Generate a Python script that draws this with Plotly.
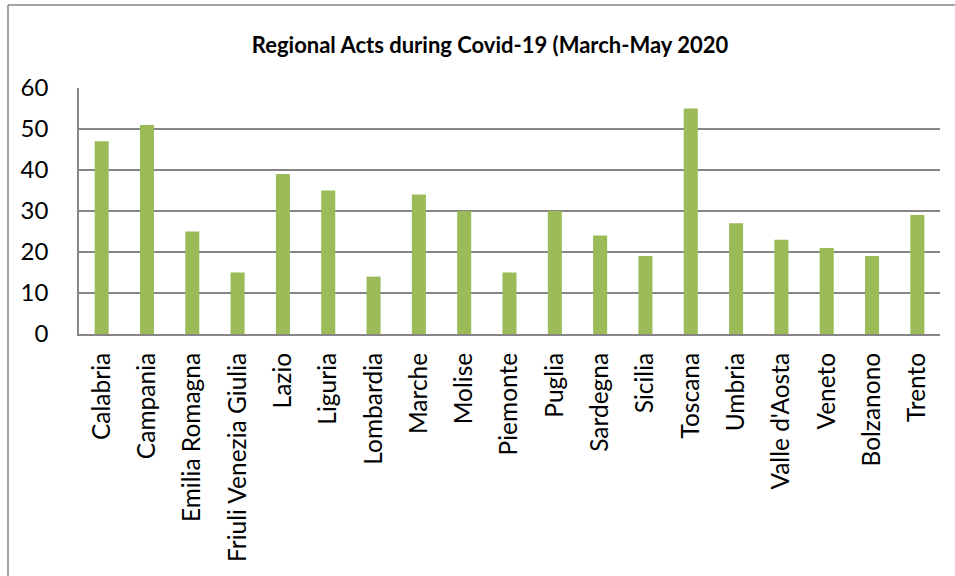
import plotly.graph_objects as go

regions = ["Calabria", "Campania", "Emilia Romagna", "Friuli Venezia Giulia", "Lazio",
           "Liguria", "Lombardia", "Marche", "Molise", "Piemonte", "Puglia", "Sardegna",
           "Sicilia", "Toscana", "Umbria", "Valle d'Aosta", "Veneto", "Bolzanono", "Trento"]
acts = [47, 51, 25, 15, 39, 35, 14, 34, 30, 15, 30, 24, 19, 55, 27, 23, 21, 19, 29]
y_ticks = [0, 10, 20, 30, 40, 50, 60]

W, H = 955, 576
L, R, T, B = 79, 940, 88, 334

fig = go.Figure(go.Bar(x=regions, y=acts, marker=dict(color="#9BBB59", line=dict(width=0))))

pw, ph = R - L, B - T
def px_x(p): return (p - L) / pw
def px_y(p): return (B - p) / ph

fig.update_layout(
    width=W, height=H,
    margin=dict(l=L, r=W - R, t=T, b=H - B, pad=0),
    paper_bgcolor="white", plot_bgcolor="white",
    bargap=0.69,
    showlegend=False,
    font=dict(family="Lato, Open Sans, sans-serif", color="black"),
    title=dict(text="<b>Regional Acts during Covid-19 (March-May 2020</b>",
               x=490 / W, xanchor="center", y=1 - 45 / H, yanchor="middle",
               font=dict(size=22, family="Lato, sans-serif", color="black")),
    xaxis=dict(showline=True, linecolor="#868686", linewidth=2, ticks="",
               tickangle=-90, tickfont=dict(size=24.5), ticklabelstandoff=7,
               showgrid=False),
    yaxis=dict(range=[0, 60], tickvals=y_ticks, showgrid=True, gridcolor="#868686",
               gridwidth=1.5, showline=True, linecolor="#868686", linewidth=1.5,
               ticks="", tickfont=dict(size=24), ticklabelstandoff=24, zeroline=False),
    shapes=[
        dict(type="line", xref="paper", yref="paper", x0=px_x(8), x1=px_x(W + 5),
             y0=px_y(5), y1=px_y(5), line=dict(color="#868686", width=1.5)),
        dict(type="line", xref="paper", yref="paper", x0=px_x(8), x1=px_x(8),
             y0=px_y(5), y1=px_y(H + 5), line=dict(color="#868686", width=1.5)),
    ],
)

fig.write_html("out.html")
